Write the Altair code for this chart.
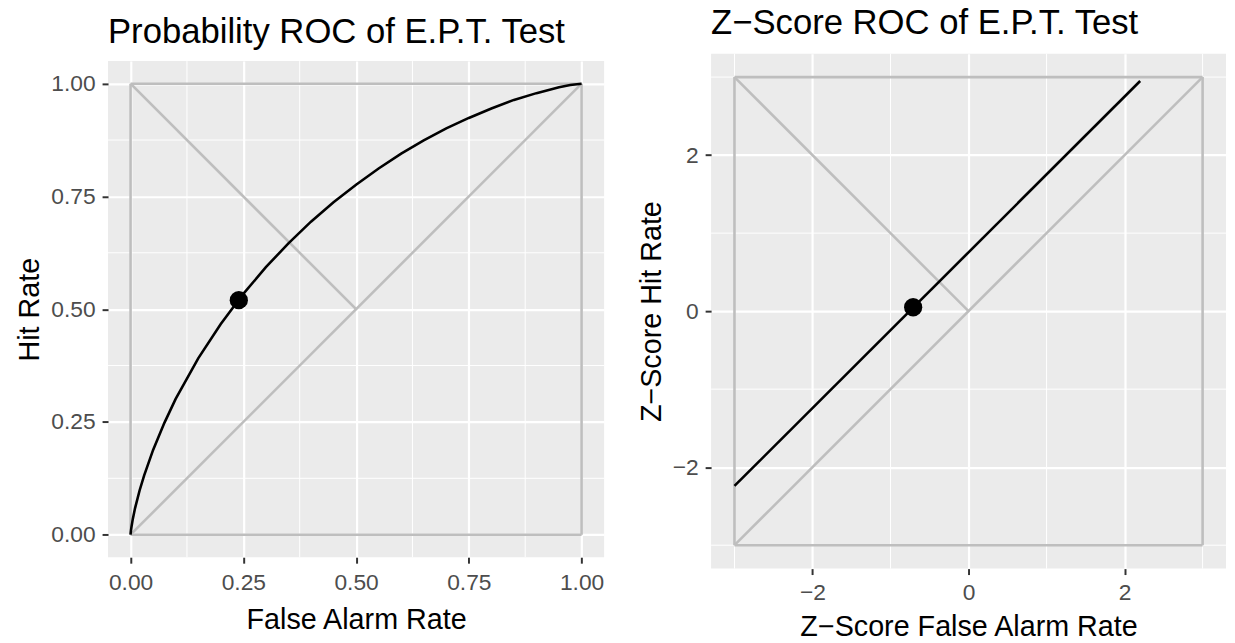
import altair as alt
import pandas as pd

FONT = "Liberation Sans"

# ---------------- Probability ROC ----------------
fa_curve = [0.0, 0.0002, 0.001, 0.002, 0.005, 0.01, 0.02, 0.03, 0.05, 0.075, 0.10,
            0.15, 0.20, 0.25, 0.30, 0.35, 0.40, 0.45, 0.50, 0.55, 0.60, 0.65,
            0.70, 0.75, 0.80, 0.85, 0.90, 0.95, 0.975, 1.0]
hit_curve = [0.0, 0.003, 0.010, 0.017, 0.035, 0.059, 0.098, 0.131, 0.188, 0.248, 0.301,
             0.391, 0.467, 0.534, 0.593, 0.646, 0.694, 0.737, 0.776, 0.812, 0.845, 0.874,
             0.901, 0.924, 0.945, 0.964, 0.979, 0.992, 0.997, 1.0]
fa_point = [0.24]
hit_point = [0.52]

# reference frame segments (box, chance diagonal, negative diagonal to centre)
p_seg_x = [0.0, 1.0, 1.0, 0.0, 0.0, 0.0]
p_seg_y = [0.0, 0.0, 1.0, 1.0, 0.0, 1.0]
p_seg_x2 = [1.0, 1.0, 0.0, 0.0, 1.0, 0.5]
p_seg_y2 = [0.0, 1.0, 1.0, 0.0, 1.0, 0.5]

p_ticks = [0.0, 0.25, 0.5, 0.75, 1.0]
p_minor = [0.125, 0.375, 0.625, 0.875]
p_domain = [-0.05, 1.05]

# ---------------- Z-score ROC ----------------
z_fa_line = [-3.0, 2.2]
z_hit_line = [-2.24, 2.95]
z_fa_point = [-0.71]
z_hit_point = [0.05]

z_seg_x = [-3.0, 3.0, 3.0, -3.0, -3.0, -3.0]
z_seg_y = [-3.0, -3.0, 3.0, 3.0, -3.0, 3.0]
z_seg_x2 = [3.0, 3.0, -3.0, -3.0, 3.0, 0.0]
z_seg_y2 = [-3.0, 3.0, 3.0, -3.0, 3.0, 0.0]

z_ticks = [-2, 0, 2]
z_minor = [-3, -1, 1, 3]
z_domain = [-3.3, 3.3]

GRAY = "#BEBEBE"


def panel(title, xtitle, ytitle, domain, ticks, minor, fmt, seg, line_x, line_y,
          pt_x, pt_y, size, title_offset, x_label_pad, x_title_pad):
    xscale = alt.Scale(domain=domain, nice=False, zero=False)
    yscale = alt.Scale(domain=domain, nice=False, zero=False)
    xaxis = alt.Axis(values=ticks, format=fmt, title=xtitle, grid=True,
                     labelFlush=False, labelPadding=x_label_pad,
                     titlePadding=x_title_pad)
    yaxis = alt.Axis(values=ticks, format=fmt, title=ytitle, grid=True,
                     labelPadding=7, titlePadding=6)

    def X(f="x"):
        return alt.X(f + ":Q", scale=xscale, axis=xaxis)

    def Y(f="y"):
        return alt.Y(f + ":Q", scale=yscale, axis=yaxis)

    minor_v = alt.Chart(pd.DataFrame({"x": minor})).mark_rule(
        color="white", strokeWidth=1).encode(x=X())
    minor_h = alt.Chart(pd.DataFrame({"y": minor})).mark_rule(
        color="white", strokeWidth=1).encode(y=Y())
    sx, sy, sx2, sy2 = seg
    segs = alt.Chart(pd.DataFrame({"x": sx, "y": sy, "x2": sx2, "y2": sy2})).mark_rule(
        color=GRAY, strokeWidth=2.6).encode(x=X(), y=Y(), x2="x2:Q", y2="y2:Q")
    line = alt.Chart(pd.DataFrame({"x": line_x, "y": line_y})).mark_line(
        color="black", strokeWidth=2.6).encode(x=X(), y=Y())
    point = alt.Chart(pd.DataFrame({"x": pt_x, "y": pt_y})).mark_circle(
        color="black", opacity=1, size=340).encode(x=X(), y=Y())

    return alt.layer(minor_v, minor_h, segs, line, point).properties(
        width=size, height=size,
        title=alt.TitleParams(title, anchor="start", frame="group", fontSize=35,
                              font=FONT, fontWeight="normal", color="black",
                              baseline="alphabetic", offset=title_offset))


left = panel("Probability ROC of E.P.T. Test", "False Alarm Rate", "Hit Rate",
             p_domain, p_ticks, p_minor, ".2f",
             (p_seg_x, p_seg_y, p_seg_x2, p_seg_y2), fa_curve, hit_curve,
             fa_point, hit_point, 501, -17.5, 9, 11)
right = panel("Z\u2212Score ROC of E.P.T. Test", "Z\u2212Score False Alarm Rate",
              "Z\u2212Score Hit Rate", z_domain, z_ticks, z_minor, "d",
              (z_seg_x, z_seg_y, z_seg_x2, z_seg_y2), z_fa_line, z_hit_line,
              z_fa_point, z_hit_point, 520, -16, 7, 9)

chart = alt.hconcat(left, right, spacing=32, center=True).properties(
    padding={"left": 8, "top": -5, "right": 0, "bottom": 0},
    background="white"
).configure_view(
    fill="#EBEBEB", strokeWidth=0
).configure_axis(
    domain=False, tickColor="#333333", tickWidth=2, tickSize=6,
    labelColor="#4D4D4D", labelFont=FONT, labelFontSize=23,
    titleFont=FONT, titleFontSize=29, titleFontWeight="normal", titleColor="black",
    gridColor="white", gridWidth=2.2
)

chart.save("out.html", embed_options={"renderer": "svg", "actions": False})
